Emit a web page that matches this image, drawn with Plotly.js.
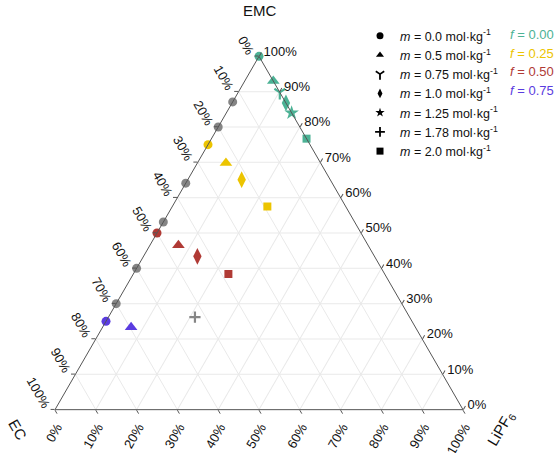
<!DOCTYPE html>
<html>
<head>
<meta charset="utf-8">
<script src="https://cdn.plot.ly/plotly-3.0.1.min.js"></script>
<style>html,body{margin:0;padding:0;background:#fff;}#chart{width:557px;height:453px;}</style>
</head>
<body>
<div id="chart"></div>
<script>
// Composition of each point in mass percent
const pointEMC   = [100, 93.0, 89.8, 86.8, 84.0, 76.7, 75.0, 69.8, 65.1, 57.5, 50.0, 46.5, 43.4, 38.4, 25.0, 23.3, 87.1, 80.0, 64.1, 53.1, 40.0, 30.0, 26.2];
const pointEC    = [0,   0,    0,    0,    0,    0,    25.0, 23.2, 21.7, 19.2, 50.0, 46.5, 43.4, 38.3, 75.0, 69.7, 12.9, 20.0, 35.9, 46.9, 60.0, 70.0, 52.6];
const pointLiPF6 = [0,   7.0,  10.2, 13.2, 16.0, 23.3, 0,    7.0,  13.2, 23.3, 0,    7.0,  13.2, 23.3, 0,    7.0,  0,    0,    0,    0,    0,    0,    21.2];
const pointM     = ['0.0','0.5','0.75','1.0','1.25','2.0','0.0','0.5','1.0','2.0','0.0','0.5','1.0','2.0','0.0','0.5','0.0','0.0','0.0','0.0','0.0','0.0','1.78'];
const pointF     = ['0.00','0.00','0.00','0.00','0.00','0.00','0.25','0.25','0.25','0.25','0.50','0.50','0.50','0.50','0.75','0.75','other','other','other','other','other','other','other'];

const mLabels = ['0.0', '0.5', '0.75', '1.0', '1.25', '1.78', '2.0'];
const mSymbols = ['circle', 'triangle-up', 'y-down', 'diamond-tall', 'star', 'cross-thin', 'square'];
const mSizes = [9, 11, 9, 12, 11, 8, 8];
const fLabels = ['0.00', '0.25', '0.50', '0.75'];
const fColors = ['#4cb295', '#ecc400', '#b03a35', '#5a3ce0'];
const otherColor = '#858585';

const tickVals = [0, 10, 20, 30, 40, 50, 60, 70, 80, 90, 100];
const tickText = tickVals.map(v => (100 - v) + '%');

function colorOf(f) {
  const i = fLabels.indexOf(f);
  return i >= 0 ? fColors[i] : otherColor;
}

const traces = [];
mLabels.forEach((m, k) => {
  const idx = pointM.map((v, i) => v === m ? i : -1).filter(i => i >= 0);
  const cols = idx.map(i => colorOf(pointF[i]));
  const isLine = mSymbols[k] === 'y-down' || mSymbols[k] === 'cross-thin';
  traces.push({
    type: 'scatterternary', mode: 'markers', showlegend: false, cliponaxis: false,
    a: idx.map(i => pointEMC[i]), b: idx.map(i => pointEC[i]), c: idx.map(i => pointLiPF6[i]),
    marker: {symbol: mSymbols[k], size: mSizes[k], color: cols,
             line: isLine ? {width: 2.2, color: cols} : {width: 0}},
    hoverinfo: 'skip'
  });
});
// legend entries (black symbols)
mLabels.forEach((m, k) => {
  const isLine = mSymbols[k] === 'y-down' || mSymbols[k] === 'cross-thin';
  traces.push({
    type: 'scatterternary', mode: 'markers', showlegend: true,
    name: '<i>m</i> = ' + m + ' mol·kg<sup>-1</sup>',
    a: [null], b: [null], c: [null],
    marker: {symbol: mSymbols[k], size: 7, color: '#000',
             line: isLine ? {width: 1.8, color: '#000'} : {width: 0}}
  });
});

const axisCommon = {
  tickmode: 'array', tickvals: tickVals, ticktext: tickText,
  ticks: 'outside', ticklen: 4, tickcolor: '#555', tickwidth: 1,
  showline: true, linecolor: '#555', linewidth: 1,
  showgrid: true, gridcolor: '#e9e9e9', gridwidth: 1,
  tickfont: {size: 13, color: '#111'},
  title: {text: ''}
};

const annotations = fLabels.map((f, i) => ({
  xref: 'paper', yref: 'paper', x: (556 - 55) / 408, y: (410 - (34.5 + i * 18.5)) / 354,
  xanchor: 'right', yanchor: 'middle', showarrow: false,
  text: '<i>f</i> = ' + f, font: {size: 13, color: fColors[i]}
}));
annotations.push({xref: 'paper', yref: 'paper', x: (259.5 - 55) / 408, y: (410 - 11) / 354,
  showarrow: false, text: 'EMC', font: {size: 15, color: '#111'}, xanchor: 'center', yanchor: 'middle'});
annotations.push({xref: 'paper', yref: 'paper', x: (18 - 55) / 408, y: (410 - 429) / 354,
  showarrow: false, text: 'EC', textangle: 60, font: {size: 15, color: '#111'}, xanchor: 'center', yanchor: 'middle'});
annotations.push({xref: 'paper', yref: 'paper', x: (501 - 55) / 408, y: (410 - 428) / 354,
  showarrow: false, text: 'LiPF<sub>6</sub>', textangle: -60, font: {size: 15, color: '#111'}, xanchor: 'center', yanchor: 'middle'});

const layout = {
  width: 557, height: 453,
  margin: {l: 55, r: 94, t: 56, b: 43},
  paper_bgcolor: '#fff',
  font: {family: '"Liberation Sans", Arial, sans-serif', color: '#111'},
  ternary: {
    sum: 100, bgcolor: '#fff',
    domain: {x: [0, 1], y: [0, 1]},
    aaxis: Object.assign({}, axisCommon, {tickangle: 60}),
    baxis: Object.assign({}, axisCommon, {tickangle: -60}),
    caxis: Object.assign({}, axisCommon, {tickangle: 0})
  },
  showlegend: true,
  legend: {x: (360 - 55) / 408, y: (410 - 21) / 354, xanchor: 'left', yanchor: 'top',
           bgcolor: 'rgba(0,0,0,0)', font: {size: 12.5, color: '#111'}, tracegroupgap: 0},
  annotations: annotations
};

Plotly.newPlot('chart', traces, layout, {displayModeBar: false, staticPlot: true});
</script>
</body>
</html>
